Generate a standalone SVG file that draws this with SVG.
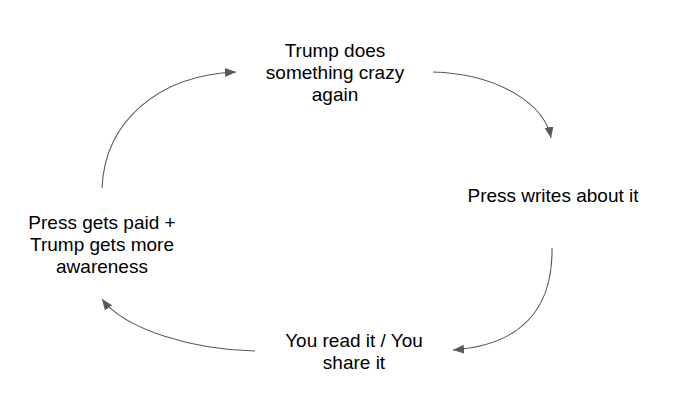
<svg xmlns="http://www.w3.org/2000/svg" width="690" height="418" viewBox="0 0 690 418">
<defs>
<style>
.t{font-family:"Liberation Sans",Arial,sans-serif;font-size:19px;fill:#000;text-anchor:middle}
.c{fill:none;stroke:#595959;stroke-width:1.1}
</style>
<marker id="ah" markerUnits="userSpaceOnUse" markerWidth="12" markerHeight="10" refX="11" refY="4.5" orient="auto" viewBox="0 0 12 10">
<path d="M0,0 L11,4.5 L0,9 Z" fill="#595959"/>
</marker>
</defs>
<rect width="690" height="418" fill="#fff"/>
<g id="n1"><text class="t" x="335" y="56.5">Trump does</text><text class="t" x="335" y="78.5">something crazy</text><text class="t" x="335" y="100.5">again</text></g>
<g id="n2"><text class="t" x="553" y="201.5">Press writes about it</text></g>
<g id="n3"><text class="t" x="354" y="346.5">You read it / You</text><text class="t" x="354" y="368.5">share it</text></g>
<g id="n4"><text class="t" x="102" y="228.5">Press gets paid +</text><text class="t" x="102" y="250.5">Trump gets more</text><text class="t" x="102" y="272.5">awareness</text></g>
<g id="connectors">
<path class="c" d="M433,72 C500,74 545,105 551,138" marker-end="url(#ah)"/>
<path class="c" d="M552,248 C553,310 520,345 453,350" marker-end="url(#ah)"/>
<path class="c" d="M255,351 C195,350 125,330 102,299" marker-end="url(#ah)"/>
<path class="c" d="M102,188 C105,120 160,75 236,72" marker-end="url(#ah)"/>
</g>
</svg>
